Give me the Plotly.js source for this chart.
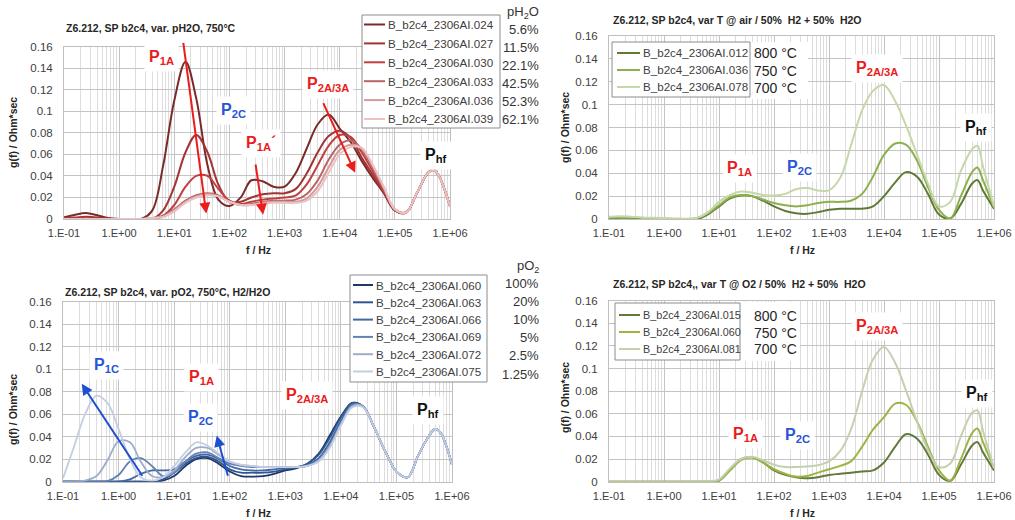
<!DOCTYPE html>
<html><head><meta charset="utf-8">
<script src="https://cdn.plot.ly/plotly-3.0.1.min.js"></script>
<style>html,body{margin:0;padding:0;background:#fff}#chart{width:1015px;height:520px}</style>
</head><body><div id="chart"></div>
<script>
// ---------- shared frequency grid and tick labels ----------
const freq = [0.1,0.16,0.25,0.4,0.63,1,1.6,2.5,4,6.3,10,16,25,40,63,100,160,250,400,630,1000,1600,2500,4000,6300,10000,16000,25000,40000,63000,100000,160000,250000,400000,500000,630000,1000000];
const xTickVals = [0.1,1,10,100,1000,10000,100000,1000000];
const xTickText = ['1.E-01','1.E+00','1.E+01','1.E+02','1.E+03','1.E+04','1.E+05','1.E+06'];

// ---------- top-left: var. pH2O ----------
const phNames = ['B_b2c4_2306AI.024','B_b2c4_2306AI.027','B_b2c4_2306AI.030','B_b2c4_2306AI.033','B_b2c4_2306AI.036','B_b2c4_2306AI.039'];
const phValues = ['5.6%','11.5%','22.1%','42.5%','52.3%','62.1%'];
const g024 = [0.0015,0.004,0.0055,0.0035,0.001,0,0,0,0.008,0.05,0.11,0.146,0.112,0.05,0.018,0.012,0.02,0.036,0.035,0.03,0.03,0.043,0.065,0.088,0.097,0.084,0.071,0.054,0.038,0.024,0.008,0.006,0.024,0.043,0.0455,0.04,0.012];
const g027 = [0.001,0.0015,0.002,0.0015,0.0005,0,0,0,0,0.008,0.03,0.062,0.078,0.062,0.032,0.016,0.016,0.02,0.023,0.024,0.024,0.028,0.042,0.062,0.077,0.082,0.075,0.057,0.041,0.025,0.008,0.006,0.024,0.043,0.0455,0.04,0.012];
const g030 = [0.0005,0.0005,0.0005,0,0,0,0,0,0,0.003,0.013,0.03,0.04,0.04,0.028,0.017,0.014,0.016,0.018,0.019,0.02,0.022,0.032,0.05,0.068,0.078,0.076,0.062,0.044,0.026,0.009,0.006,0.024,0.043,0.0455,0.04,0.012];
const g033 = [0,0,0,0,0,0,0,0,0.001,0.003,0.009,0.017,0.022,0.024,0.022,0.016,0.013,0.014,0.016,0.017,0.017,0.018,0.023,0.036,0.055,0.069,0.073,0.065,0.047,0.028,0.009,0.006,0.024,0.043,0.0455,0.04,0.012];
const g036 = [0,0,0,0,0,0,0,0,0.001,0.002,0.008,0.016,0.021,0.023,0.021,0.016,0.013,0.013,0.015,0.016,0.016,0.016,0.019,0.03,0.048,0.064,0.069,0.066,0.049,0.029,0.009,0.006,0.024,0.043,0.0455,0.04,0.012];
const g039 = [0,0,0,0,0,0,0,0,0.001,0.002,0.007,0.015,0.02,0.022,0.021,0.016,0.013,0.013,0.014,0.015,0.015,0.015,0.017,0.026,0.043,0.06,0.067,0.066,0.05,0.03,0.009,0.006,0.024,0.043,0.0455,0.04,0.012];
const phColors = ['#7a2a2a','#a23434','#c0403f','#b96464','#d79a9a','#e9c3c3'];

// ---------- bottom-left: var. pO2 ----------
const poNames = ['B_b2c4_2306AI.060','B_b2c4_2306AI.063','B_b2c4_2306AI.066','B_b2c4_2306AI.069','B_b2c4_2306AI.072','B_b2c4_2306AI.075'];
const poValues = ['100%','20%','10%','5%','2.5%','1.25%'];
const b060 = [0,0,0,0,0,0,0,0,0,0.001,0.005,0.014,0.02,0.021,0.016,0.009,0.005,0.0045,0.005,0.007,0.01,0.012,0.016,0.025,0.041,0.058,0.07,0.067,0.048,0.027,0.009,0.004,0.024,0.042,0.047,0.043,0.015];
const b063 = [0,0,0,0,0,0,0,0,0,0.002,0.008,0.016,0.021,0.022,0.018,0.011,0.008,0.008,0.008,0.009,0.011,0.013,0.016,0.024,0.039,0.057,0.07,0.067,0.048,0.027,0.009,0.004,0.024,0.042,0.047,0.043,0.015];
const b066 = [0,0,0,0,0,0,0.002,0.007,0.01,0.01,0.011,0.018,0.023,0.024,0.02,0.014,0.011,0.01,0.01,0.011,0.012,0.013,0.015,0.021,0.035,0.054,0.069,0.067,0.048,0.027,0.009,0.004,0.024,0.042,0.047,0.043,0.015];
const b069 = [0,0,0,0,0.0005,0.006,0.018,0.021,0.014,0.005,0.008,0.018,0.025,0.026,0.021,0.016,0.014,0.013,0.013,0.013,0.013,0.013,0.014,0.019,0.032,0.051,0.068,0.067,0.048,0.027,0.009,0.004,0.024,0.042,0.047,0.043,0.015];
const b072 = [0,0,0.001,0.005,0.019,0.036,0.035,0.018,0.005,0.004,0.01,0.022,0.03,0.03,0.024,0.018,0.015,0.014,0.013,0.013,0.013,0.013,0.014,0.019,0.031,0.051,0.067,0.067,0.048,0.027,0.009,0.004,0.024,0.042,0.047,0.043,0.015];
const b075 = [0.003,0.032,0.06,0.0765,0.07,0.047,0.02,0.004,0.001,0.004,0.014,0.026,0.035,0.032,0.025,0.018,0.015,0.014,0.013,0.013,0.013,0.013,0.014,0.018,0.03,0.05,0.066,0.066,0.048,0.027,0.009,0.004,0.024,0.042,0.047,0.043,0.015];
const poColors = ['#1f3766','#2f5590','#4369a4','#6480b4','#9cadcc','#c3cee3'];

// ---------- top-right: var T @ air ----------
const taNames = ['B_b2c4_2306AI.012','B_b2c4_2306AI.036','B_b2c4_2306AI.078'];
const taTemps = ['800 °C','750 °C','700 °C'];
const t012 = [0.0005,0.001,0.001,0.0005,0,0,0,0,0,0.004,0.011,0.018,0.0205,0.02,0.016,0.011,0.007,0.005,0.0045,0.006,0.008,0.009,0.009,0.009,0.011,0.02,0.032,0.041,0.037,0.022,0.004,0.0005,0.013,0.031,0.034,0.025,0.009];
const t036 = [0.001,0.0015,0.0015,0.001,0.0005,0.0003,0,0,0.001,0.005,0.012,0.019,0.021,0.02,0.017,0.014,0.012,0.011,0.012,0.014,0.015,0.015,0.016,0.022,0.037,0.056,0.066,0.065,0.051,0.028,0.008,0.0005,0.02,0.041,0.045,0.034,0.01];
const t078 = [0.002,0.0025,0.002,0.0012,0.001,0.0008,0.0005,0.0003,0.001,0.006,0.015,0.021,0.024,0.023,0.021,0.0205,0.022,0.026,0.027,0.025,0.025,0.036,0.064,0.095,0.112,0.117,0.103,0.082,0.056,0.031,0.011,0.015,0.042,0.061,0.064,0.046,0.011];
const taColors = ['#5e7a34','#8bb04c','#c6d7a8'];

// ---------- bottom-right: var T @ O2 ----------
const toNames = ['B_b2c4_2306AI.015','B_b2c4_2306AI.060','B_b2c4_2306AI.081'];
const toTemps = ['800 °C','750 °C','700 °C'];
const r015 = [0,0,0,0,0,0,0,0,0,0,0.001,0.011,0.02,0.0215,0.017,0.01,0.006,0.004,0.003,0.004,0.006,0.007,0.008,0.009,0.01,0.017,0.031,0.042,0.038,0.024,0.006,0.0005,0.015,0.032,0.035,0.026,0.01];
const r060 = [0,0,0,0,0,0,0,0,0,0,0.001,0.01,0.019,0.0215,0.017,0.011,0.007,0.0045,0.005,0.008,0.011,0.014,0.018,0.031,0.046,0.057,0.069,0.068,0.053,0.031,0.01,0.001,0.02,0.043,0.047,0.035,0.012];
const r081 = [0,0,0,0,0,0,0,0,0,0,0.002,0.012,0.02,0.022,0.019,0.015,0.013,0.013,0.0135,0.0145,0.018,0.027,0.046,0.08,0.108,0.119,0.105,0.081,0.053,0.028,0.013,0.016,0.04,0.061,0.063,0.045,0.012];
const toColors = ['#617a3a','#9bb545','#c5d0b0'];

// ---------- layout helpers ----------
const W = 1015, H = 520;
const FONT = 'Liberation Sans, Arial, sans-serif';
const RED = '#ea1c1c', BLUE = '#2a55d6', BLK = '#111111';
const px = v => v / W, py = v => 1 - v / H;

const traces = [];
function addSeries(ys, names, colors, xa, ya, width) {
  ys.forEach((y, i) => traces.push({
    type: 'scatter', mode: 'lines', x: freq, y: y, name: names[i],
    xaxis: xa, yaxis: ya, showlegend: false, hoverinfo: 'skip',
    line: { color: colors[i], width: width, shape: 'spline', smoothing: 1 }
  }));
}
addSeries([g024, g027, g030, g033, g036, g039], phNames, phColors, 'x', 'y', 2);
addSeries([t012, t036, t078], taNames, taColors, 'x2', 'y2', 2);
addSeries([b060, b063, b066, b069, b072, b075], poNames, poColors, 'x3', 'y3', 1.8);
addSeries([r015, r060, r081], toNames, toColors, 'x4', 'y4', 2);

function xax(x0, x1, anchor) {
  return {
    domain: [px(x0), px(x1)], anchor: anchor, type: 'log', range: [-1, 6],
    tickmode: 'array', tickvals: xTickVals, ticktext: xTickText,
    showgrid: true, gridcolor: '#c4c4c4', gridwidth: 1,
    minor: { showgrid: true, gridcolor: '#dddddd', gridwidth: 1, dtick: 'D1' },
    showline: true, linecolor: '#bfbfbf', mirror: true, zeroline: false,
    ticks: 'outside', ticklen: 4, tickcolor: 'rgba(0,0,0,0)',
    tickfont: { family: FONT, size: 11, color: '#404040' }, fixedrange: true
  };
}
function yax(y0, y1, anchor) {
  return {
    domain: [py(y1), py(y0)], anchor: anchor, range: [0, 0.16], dtick: 0.02, tick0: 0,
    showgrid: true, gridcolor: '#c4c4c4', gridwidth: 1,
    showline: true, linecolor: '#bfbfbf', mirror: true, zeroline: false,
    ticks: 'outside', ticklen: 8, tickcolor: 'rgba(0,0,0,0)',
    tickfont: { family: FONT, size: 11.5, color: '#404040' }, fixedrange: true
  };
}

const shapes = [];
const annotations = [];

function txt(x, y, text, size, color, opts) {
  annotations.push(Object.assign({
    xref: 'paper', yref: 'paper', x: px(x), y: py(y), text: text, showarrow: false,
    xanchor: 'left', yanchor: 'middle', font: { family: FONT, size: size, color: color }
  }, opts || {}));
}

function customLegend(box, row0, step, lineX, textX, names, colors, fsize) {
  shapes.push({ type: 'rect', xref: 'paper', yref: 'paper', layer: 'above',
    x0: px(box[0]), x1: px(box[2]), y0: py(box[3]), y1: py(box[1]),
    fillcolor: '#ffffff', line: { color: '#8c8c8c', width: 1 } });
  names.forEach((n, i) => {
    const yy = row0 + step * i;
    shapes.push({ type: 'line', xref: 'paper', yref: 'paper', layer: 'above',
      x0: px(lineX[0]), x1: px(lineX[1]), y0: py(yy), y1: py(yy),
      line: { color: colors[i], width: 2 } });
    txt(textX, yy, n, fsize, '#404040');
  });
}

// legends
customLegend([362, 15, 500, 128], 24.5, 18.9, [364, 385], 386, phNames, phColors, 11.6);
customLegend([350, 275, 487, 382], 285, 17.3, [353, 373], 374, poNames, poColors, 11.6);
// white area behind temperature labels
shapes.push({ type: 'rect', xref: 'paper', yref: 'paper', layer: 'above',
  x0: px(750), x1: px(808), y0: py(99), y1: py(42), fillcolor: '#ffffff', line: { width: 0 } });
shapes.push({ type: 'rect', xref: 'paper', yref: 'paper', layer: 'above',
  x0: px(740), x1: px(800), y0: py(361), y1: py(302), fillcolor: '#ffffff', line: { width: 0 } });
customLegend([612, 42, 750, 97], 53, 17, [617, 640], 641, taNames, taColors, 11.6);
customLegend([615, 303, 740, 360], 315, 17, [619, 640], 641, toNames, toColors, 10.8);

// condition columns
txt(541, 12.5, 'pH<sub>2</sub>O', 13, '#333333', { xanchor: 'right' });
phValues.forEach((v, i) => txt(541, 29.2 + 18.1 * i, v, 13, '#333333', { xanchor: 'right' }));
txt(541, 266, 'pO<sub>2</sub>', 13, '#333333', { xanchor: 'right' });
poValues.forEach((v, i) => txt(541, 283 + 18.2 * i, v, 13, '#333333', { xanchor: 'right' }));
taTemps.forEach((v, i) => txt(752, 53.5 + 17.3 * i, v, 14, '#262626'));
toTemps.forEach((v, i) => txt(752, 316 + 16.7 * i, v, 14, '#262626'));

// plot titles
const TFONT = 10.5;
txt(64, 28, '<b>Z6.212, SP b2c4, var. pH2O, 750°C</b>', TFONT, '#262626');
txt(611, 20, '<b>Z6.212, SP b2c4, var T @ air / 50%\u00a0 H2 + 50%\u00a0 H2O</b>', TFONT, '#262626');
txt(63, 292, '<b>Z6.212, SP b2c4, var. pO2, 750°C, H2/H2O</b>', TFONT, '#262626');
txt(611, 284, '<b>Z6.212, SP b2c4,, var T @ O2 / 50%\u00a0 H2 + 50%\u00a0 H2O</b>', TFONT, '#262626');

// axis titles
[[258, 250], [802, 250], [258, 513], [802, 513]].forEach(p =>
  txt(p[0], p[1], '<b>f / Hz</b>', 10.5, '#262626', { xanchor: 'center' }));
[[13, 133], [565, 128], [13, 410], [565, 398]].forEach(p =>
  txt(p[0], p[1], '<b>g(f) / Ohm*sec</b>', 10.5, '#262626', { xanchor: 'center', textangle: -90 }));

// peak labels (positions in axis units: log10 f, g)
function peak(xa, ya, lx, ly, html, color) {
  annotations.push({ xref: xa, yref: ya, x: lx, y: ly, text: '<b>' + html + '</b>',
    showarrow: false, xanchor: 'center', yanchor: 'middle', bgcolor: '#ffffff', borderpad: 4,
    font: { family: FONT, size: 16, color: color } });
}
peak('x', 'y', 0.77, 0.15, 'P<sub>1A</sub>', RED);
peak('x', 'y', 2.08, 0.101, 'P<sub>2C</sub>', BLUE);
peak('x', 'y', 2.57, 0.07, 'P<sub>1A</sub>´', RED);
peak('x', 'y', 3.78, 0.125, 'P<sub>2A/3A</sub>', RED);
peak('x', 'y', 5.755, 0.0586, 'P<sub>hf</sub>', BLK);

peak('x2', 'y2', 1.38, 0.044, 'P<sub>1A</sub>', RED);
peak('x2', 'y2', 2.455, 0.045, 'P<sub>2C</sub>', BLUE);
peak('x2', 'y2', 3.873, 0.132, 'P<sub>2A/3A</sub>', RED);
peak('x2', 'y2', 5.68, 0.08, 'P<sub>hf</sub>', BLK);

peak('x3', 'y3', -0.226, 0.103, 'P<sub>1C</sub>', BLUE);
peak('x3', 'y3', 1.50, 0.093, 'P<sub>1A</sub>', RED);
peak('x3', 'y3', 1.483, 0.057, 'P<sub>2C</sub>', BLUE);
peak('x3', 'y3', 3.391, 0.077, 'P<sub>2A/3A</sub>', RED);
peak('x3', 'y3', 5.577, 0.0637, 'P<sub>hf</sub>', BLK);

peak('x4', 'y4', 1.49, 0.042, 'P<sub>1A</sub>', RED);
peak('x4', 'y4', 2.436, 0.041, 'P<sub>2C</sub>', BLUE);
peak('x4', 'y4', 3.873, 0.1368, 'P<sub>2A/3A</sub>', RED);
peak('x4', 'y4', 5.69, 0.078, 'P<sub>hf</sub>', BLK);

// trend arrows (head, tail in axis units)
function arrow(xa, ya, hx, hy, tx, ty, color) {
  annotations.push({ xref: xa, yref: ya, axref: xa, ayref: ya, x: hx, y: hy, ax: tx, ay: ty,
    text: '', showarrow: true, arrowhead: 2, arrowsize: 1.1, arrowwidth: 2, arrowcolor: color, standoff: 0 });
}
arrow('x', 'y', 1.58, 0.005, 1.16, 0.165, RED);
arrow('x', 'y', 2.61, 0.004, 2.47, 0.052, RED);
arrow('x', 'y', 4.28, 0.043, 3.69, 0.109, RED);
arrow('x3', 'y3', -0.663, 0.087, 0.445, 0.004, '#1f4fd1');
arrow('x3', 'y3', 1.766, 0.041, 1.975, 0.004, '#1f4fd1');

const layout = {
  width: W, height: H, margin: { l: 0, r: 0, t: 0, b: 0 },
  paper_bgcolor: '#ffffff', plot_bgcolor: '#ffffff', showlegend: false,
  font: { family: FONT, color: '#404040' },
  xaxis: xax(64, 450, 'y'), yaxis: yax(46.7, 219, 'x'),
  xaxis2: xax(609, 994, 'y2'), yaxis2: yax(36, 219, 'x2'),
  xaxis3: xax(63, 452, 'y3'), yaxis3: yax(301.7, 481.7, 'x3'),
  xaxis4: xax(609, 994, 'y4'), yaxis4: yax(300.7, 481.7, 'x4'),
  shapes: shapes, annotations: annotations
};
Plotly.newPlot('chart', traces, layout, { displayModeBar: false, staticPlot: true });
</script>
</body></html>
